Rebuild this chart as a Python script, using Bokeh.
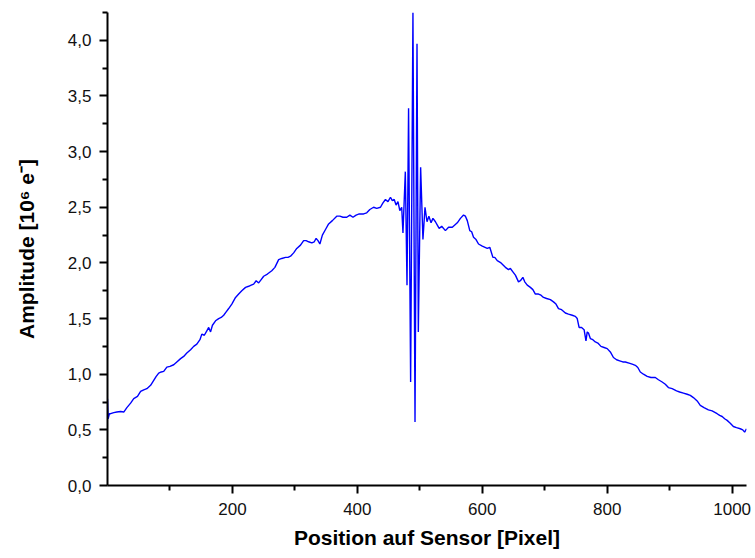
from bokeh.plotting import figure
from bokeh.models import FixedTicker, CustomJSTickFormatter, Range1d
from bokeh.embed import file_html
from bokeh.resources import INLINE

# Position on sensor [pixel]
pos = [0, 1, 3, 5, 10, 15, 21, 26, 31, 37, 42, 48, 53, 58, 63, 69, 74, 78, 82, 86,
       90, 95, 100, 106, 111, 117, 122, 127, 133, 138, 143, 148, 151, 155, 159, 162,
       165, 168, 173, 178, 182, 186, 190, 194, 199, 205, 210, 215, 221, 226, 230, 234,
       238, 242, 246, 250, 256, 263, 268, 274, 279, 285, 289, 293, 298, 303, 309, 314,
       318, 322, 327, 331, 334, 337, 340, 344, 349, 354, 360, 367, 372, 377, 383, 388,
       393, 398, 403, 410, 415, 420, 426, 431, 437, 441, 445, 449, 453, 456, 459, 462,
       465, 468, 471, 473, 476.8, 479.5, 482, 485.3, 489, 492.3, 495.5, 497.6, 501.3,
       505, 508.3, 511.5, 514.5, 518, 521, 525, 528, 531, 535, 541, 546, 552, 556, 560,
       565, 570, 573, 576, 580, 583, 586, 590, 594, 600, 608, 612, 617, 620, 624, 630,
       637, 642, 645, 649, 653, 658, 661, 665, 668, 672, 677, 681, 685, 690, 694, 698,
       703, 709, 714, 718, 722, 727, 733, 738, 744, 749, 752, 755, 759, 763, 766, 768,
       770, 773, 777, 781, 785, 790, 795, 800, 805, 810, 815, 820, 825, 829, 835, 840,
       845, 849, 853, 858, 864, 870, 877, 882, 888, 893, 898, 904, 911, 916, 922, 928,
       933, 938, 944, 949, 955, 962, 968, 976, 980, 984, 988, 992, 997, 1002, 1007,
       1013, 1017, 1020, 1023]

# Amplitude [10^6 e-]
amp = [0.78, 0.60, 0.645, 0.645, 0.655, 0.66, 0.665, 0.66, 0.70, 0.74, 0.78, 0.80,
       0.845, 0.86, 0.87, 0.90, 0.944, 0.98, 1.01, 1.02, 1.025, 1.064, 1.07, 1.085,
       1.11, 1.14, 1.16, 1.19, 1.22, 1.25, 1.27, 1.31, 1.36, 1.35, 1.39, 1.42, 1.38,
       1.44, 1.48, 1.50, 1.51, 1.53, 1.56, 1.59, 1.63, 1.69, 1.72, 1.75, 1.78, 1.79,
       1.80, 1.81, 1.84, 1.82, 1.85, 1.88, 1.90, 1.93, 1.96, 2.03, 2.04, 2.05, 2.05,
       2.06, 2.09, 2.13, 2.16, 2.20, 2.20, 2.19, 2.18, 2.19, 2.22, 2.20, 2.17, 2.25,
       2.30, 2.35, 2.38, 2.42, 2.42, 2.41, 2.41, 2.43, 2.41, 2.43, 2.44, 2.44, 2.45,
       2.48, 2.50, 2.49, 2.50, 2.54, 2.57, 2.55, 2.59, 2.56, 2.57, 2.52, 2.55, 2.47,
       2.50, 2.27, 2.82, 1.80, 3.39, 0.93, 4.25, 0.57, 3.97, 1.38, 2.86, 2.21, 2.50,
       2.37, 2.42, 2.36, 2.40, 2.37, 2.34, 2.31, 2.33, 2.29, 2.32, 2.32, 2.34, 2.36,
       2.40, 2.43, 2.42, 2.38, 2.29, 2.28, 2.23, 2.21, 2.17, 2.15, 2.13, 2.14, 2.05,
       2.05, 2.02, 2.00, 1.96, 1.94, 1.95, 1.92, 1.89, 1.83, 1.84, 1.87, 1.83, 1.80,
       1.78, 1.76, 1.72, 1.72, 1.71, 1.69, 1.68, 1.67, 1.65, 1.63, 1.59, 1.58, 1.55,
       1.54, 1.53, 1.52, 1.50, 1.42, 1.42, 1.40, 1.30, 1.38, 1.37, 1.32, 1.31, 1.29,
       1.28, 1.25, 1.24, 1.23, 1.20, 1.15, 1.13, 1.12, 1.11, 1.11, 1.10, 1.09, 1.08,
       1.06, 1.02, 1.00, 0.98, 0.97, 0.97, 0.95, 0.93, 0.91, 0.88, 0.87, 0.85, 0.84,
       0.83, 0.82, 0.81, 0.79, 0.76, 0.72, 0.70, 0.68, 0.67, 0.645, 0.63, 0.62, 0.60,
       0.585, 0.56, 0.53, 0.52, 0.51, 0.50, 0.48, 0.51]

x_major = [200, 400, 600, 800, 1000]
x_minor = [100, 300, 500, 700, 900]
y_major = [0.0, 0.5, 1.0, 1.5, 2.0, 2.5, 3.0, 3.5, 4.0]
y_minor = [0.25, 0.75, 1.25, 1.75, 2.25, 2.75, 3.25, 3.75, 4.25]

x_title = "Position auf Sensor [Pixel]"
y_title = "Amplitude [10\u2076 e\u207b]"

p = figure(width=755, height=558, output_backend="svg", toolbar_location=None,
           x_range=Range1d(0, 1023), y_range=Range1d(0, 4.25),
           min_border_left=107, min_border_right=9, min_border_top=12,
           min_border_bottom=73)
p.outline_line_color = None
p.xgrid.visible = False
p.ygrid.visible = False
p.background_fill_color = "white"
p.border_fill_color = "white"

p.line(pos, amp, line_color="#0000ff", line_width=1.4)

fmt = CustomJSTickFormatter(code="return tick.toFixed(1).replace('.', ',');")

for ax in (p.xaxis[0], p.yaxis[0]):
    ax.axis_line_color = "black"
    ax.axis_line_width = 2
    ax.major_tick_line_color = "black"
    ax.major_tick_line_width = 2
    ax.minor_tick_line_color = "black"
    ax.minor_tick_line_width = 2
    ax.major_tick_out = 8
    ax.major_tick_in = 0
    ax.minor_tick_out = 5
    ax.minor_tick_in = 0
    ax.major_label_text_font = "Liberation Sans"
    ax.major_label_text_font_size = "17px"
    ax.major_label_text_color = "#111111"
    ax.axis_label_text_font = "Liberation Sans"
    ax.axis_label_text_font_size = "21px"
    ax.axis_label_text_font_style = "bold"
    ax.axis_label_text_color = "black"

p.xaxis.ticker = FixedTicker(ticks=x_major, minor_ticks=x_minor)
p.yaxis.ticker = FixedTicker(ticks=y_major, minor_ticks=y_minor)
p.yaxis.formatter = fmt
p.xaxis.axis_label = x_title
p.yaxis.axis_label = y_title
p.xaxis.major_label_standoff = 9
p.yaxis.major_label_standoff = 8
p.xaxis.axis_label_standoff = 8
p.yaxis.axis_label_standoff = 27

open("out.html", "w").write(file_html(p, INLINE))
